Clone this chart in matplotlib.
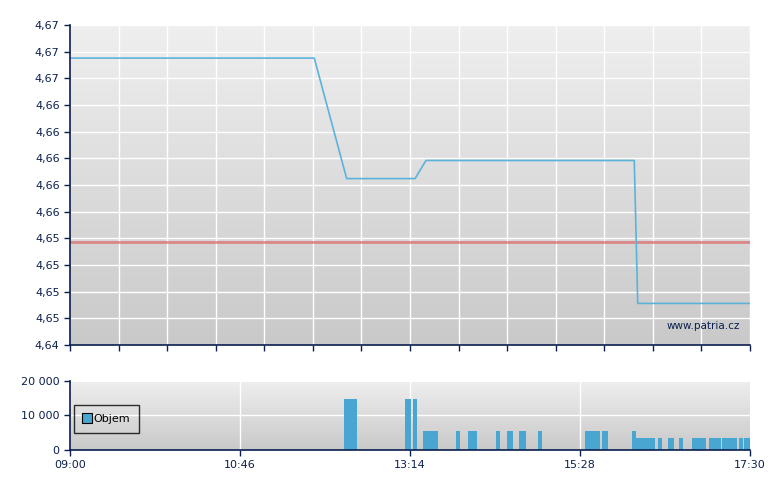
import numpy as np
import matplotlib

matplotlib.use("Agg")
import matplotlib.pyplot as plt
from matplotlib.lines import Line2D

# time axis in session units: 0 = 09:00, 510 = 17:30
x_ticks = [0, 127.5, 255, 382.5, 510]
x_labels = ["09:00", "10:46", "13:14", "15:28", "17:30"]

# price line
price_t = [0, 183.2, 207.5, 258.8, 267.0, 423.2, 425.8, 510]
price_v = [4.6694, 4.6694, 4.6581, 4.6581, 4.6598, 4.6598, 4.6464, 4.6464]
ref_price = 4.6522

price_ticks = [4.6425 + 0.0025 * i for i in range(13)]
price_labels = ["4,64", "4,65", "4,65", "4,65", "4,65", "4,66", "4,66",
                "4,66", "4,66", "4,66", "4,67", "4,67", "4,67"]

# volume bars: start, end (session units), volume
vol_start = [205.5, 251.3, 257.3, 264.8, 289.5, 298.5, 319.5, 327.8, 336.8, 351.0,
             386.3, 399.0, 421.5, 424.5, 441.0, 448.5, 456.8, 466.5, 479.3, 489.0,
             501.8, 505.5]
vol_end = [215.3, 255.8, 260.3, 276.0, 292.5, 305.3, 322.5, 332.3, 342.0, 354.0,
           397.5, 403.5, 424.5, 438.8, 444.0, 453.0, 459.8, 477.0, 488.3, 500.3,
           504.8, 510.0]
vol_val = [14700, 14700, 14700, 5500, 5500, 5500, 5500, 5500, 5500, 5500,
           5500, 5500, 5500, 3500, 3500, 3500, 3500, 3500, 3500, 3500,
           3500, 3500]

NAVY = "#0b1f4f"
GRID = "white"
BAR = "#48a6d0"
LINE = "#5cb3da"
RED = "#e06a6a"

plt.rcParams["font.family"] = ["DejaVu Sans"]

fig = plt.figure(figsize=(7.8, 4.9), dpi=100)
W, H = 780, 490
ax = fig.add_axes([70 / W, (H - 345) / H, 680 / W, 320 / H])
axv = fig.add_axes([70 / W, (H - 450) / H, 680 / W, 69.3 / H])


def gradient(a):
    g = np.linspace(0, 1, 256).reshape(-1, 1)
    a.imshow(g, cmap=matplotlib.colors.LinearSegmentedColormap.from_list(
        "bg", ["#efefef", "#c9c9c9"]), aspect="auto", extent=[0, 1, 0, 1],
        transform=a.transAxes, zorder=0, origin="upper")


def style(a):
    for s in ("top", "right"):
        a.spines[s].set_visible(False)
    for s in ("left", "bottom"):
        a.spines[s].set_color(NAVY)
        a.spines[s].set_linewidth(1.2)
        a.spines[s].set_zorder(5)
    a.tick_params(colors=NAVY, labelcolor=NAVY, labelsize=8, length=4, width=1)


# price panel
gradient(ax)
style(ax)
ax.set_xlim(0, 510)
ax.set_ylim(4.6425, 4.6725)
ax.set_yticks(price_ticks)
ax.set_yticklabels(price_labels)
ax.set_xticks(np.linspace(0, 510, 15))
ax.tick_params(axis="x", labelbottom=False)
for yv in price_ticks[1:]:
    ax.axhline(yv, color=GRID, lw=1.0, zorder=1)
for xv in np.linspace(0, 510, 15)[1:]:
    ax.axvline(xv, color=GRID, lw=1.0, zorder=1)
ax.axhline(ref_price, color=RED, lw=2, alpha=0.75, zorder=2)
ax.plot(price_t, price_v, color=LINE, lw=1.2, zorder=3)
ax.text(0.985, 0.06, "www.patria.cz", transform=ax.transAxes, ha="right",
        va="center", color=NAVY, fontsize=7.5, zorder=4)

# volume panel
gradient(axv)
style(axv)
axv.set_xlim(0, 510)
axv.set_ylim(0, 20000)
axv.set_yticks([0, 10000, 20000])
axv.set_yticklabels(["0", "10 000", "20 000"])
axv.set_xticks(x_ticks)
axv.set_xticklabels(x_labels)
axv.axhline(10000, color=GRID, lw=1.0, zorder=1)
axv.axhline(20000, color=GRID, lw=1.5, zorder=1)
for xv in x_ticks[1:4]:
    axv.axvline(xv, color=GRID, lw=1.0, zorder=1)
axv.bar(vol_start, vol_val, width=np.array(vol_end) - np.array(vol_start),
        align="edge", color=BAR, zorder=3, linewidth=0)
leg = axv.legend(handles=[Line2D([], [], marker="s", ls="", markersize=7,
                                 markerfacecolor=BAR, markeredgecolor="black",
                                 markeredgewidth=0.8)],
                 labels=["Objem"], loc="upper left", bbox_to_anchor=(0.006, 0.65),
                 frameon=True, fontsize=8, fancybox=False, borderpad=0.8,
                 handletextpad=0.25, handlelength=0.7, borderaxespad=0)
leg.get_frame().set_edgecolor("black")
leg.get_frame().set_facecolor("none")
leg.get_frame().set_linewidth(1)

fig.savefig("out.png", dpi=100)
